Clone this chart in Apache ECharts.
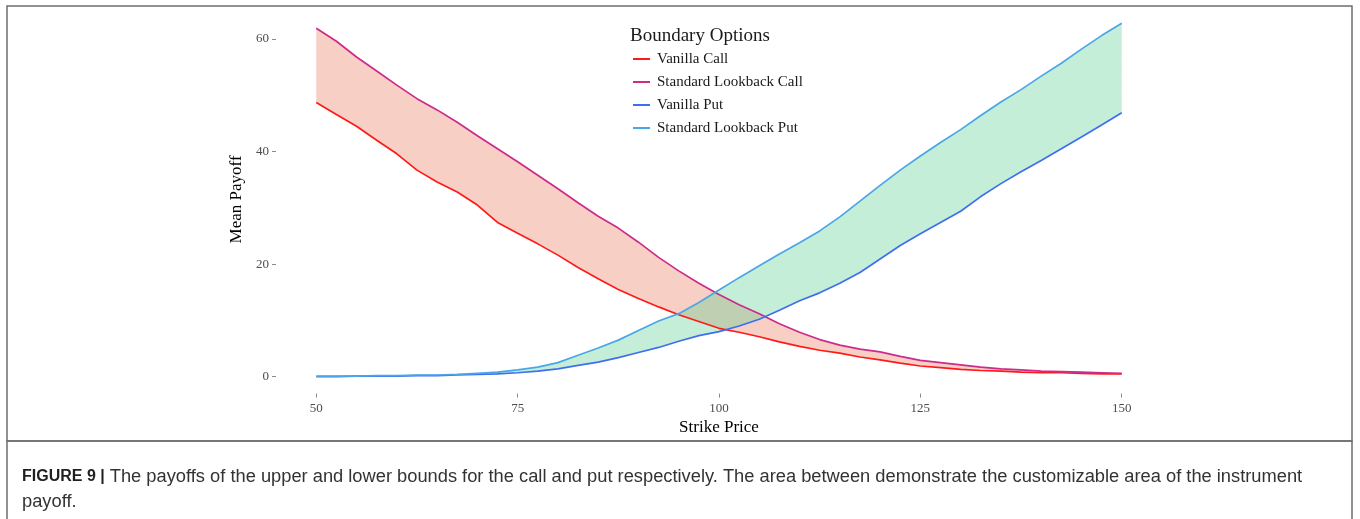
<!DOCTYPE html>
<html>
<head>
<meta charset="utf-8">
<script src="https://cdn.jsdelivr.net/npm/echarts@6/dist/echarts.min.js"></script>
<style>html,body{margin:0;padding:0;background:#fff;}#chart{width:1360px;height:519px;}</style>
</head>
<body>
<div id="chart"></div>
<script>
const strikes = [50,52.5,55,57.5,60,62.5,65,67.5,70,72.5,75,77.5,80,82.5,85,87.5,90,92.5,95,97.5,100,102.5,105,107.5,110,112.5,115,117.5,120,122.5,125,127.5,130,132.5,135,137.5,140,142.5,145,147.5,150];
const vanillaCall = [48.7,46.6,44.5,42.0,39.6,36.7,34.6,32.8,30.5,27.4,25.5,23.6,21.6,19.4,17.4,15.5,13.9,12.4,11.0,9.8,8.6,7.9,7.1,6.2,5.4,4.7,4.2,3.5,3.0,2.4,1.9,1.6,1.3,1.1,1.0,0.8,0.7,0.7,0.6,0.5,0.5];
const lookbackCall = [61.9,59.6,56.8,54.3,51.8,49.4,47.4,45.2,42.8,40.5,38.2,35.8,33.4,30.9,28.5,26.4,23.9,21.2,18.8,16.6,14.6,12.8,11.2,9.4,7.9,6.6,5.6,4.9,4.4,3.6,2.9,2.5,2.1,1.7,1.4,1.2,1.0,0.9,0.8,0.7,0.6];
const vanillaPut = [0.0,0.0,0.1,0.1,0.1,0.2,0.2,0.3,0.4,0.5,0.7,1.0,1.4,2.0,2.6,3.4,4.3,5.2,6.3,7.3,8.0,9.0,10.2,11.8,13.5,14.9,16.6,18.5,20.9,23.3,25.4,27.4,29.4,32.0,34.3,36.4,38.4,40.5,42.6,44.7,46.9];
const lookbackPut = [0.1,0.1,0.1,0.2,0.2,0.3,0.3,0.4,0.6,0.8,1.2,1.7,2.5,3.8,5.1,6.5,8.2,9.9,11.2,13.2,15.4,17.6,19.7,21.8,23.8,25.9,28.4,31.2,34.0,36.7,39.2,41.6,43.9,46.4,48.8,51.0,53.4,55.7,58.2,60.6,62.8];
const xTicks = [50,75,100,125,150];
const yTicks = [0,20,40,60];
const seriesNames = ['Vanilla Call','Standard Lookback Call','Vanilla Put','Standard Lookback Put'];
const seriesColors = ['#ff1a1a','#cc2a8c','#3d6ff0','#4aa6e6'];

const pairs = (ys) => strikes.map((x,i)=>[x, ys[i]]);

function lineSeries(name, ys, color){
  return {name:name, type:'line', data:pairs(ys), symbol:'none', smooth:false,
    lineStyle:{color:color, width:1.7}, itemStyle:{color:color}, silent:true};
}
// band between a lower and an upper curve, drawn as one polygon through the axes' scales
function bandSeries(lo, hi, color){
  return {type:'custom', silent:true, clip:false,
    data: strikes.map((x,i)=>[x, lo[i], hi[i]]),
    encode:{x:0, y:[1,2]},
    renderItem:function(params, api){
      if (params.dataIndex !== 0) return null;
      const pts = [];
      for (let i=0;i<strikes.length;i++) pts.push(api.coord([strikes[i], hi[i]]));
      for (let i=strikes.length-1;i>=0;i--) pts.push(api.coord([strikes[i], lo[i]]));
      return {type:'polygon', shape:{points:pts}, style:{fill:color, stroke:null}};
    }
  };
}

const serif = 'Liberation Serif';
const chart = echarts.init(document.getElementById('chart'));
chart.setOption({
  animation:false,
  backgroundColor:'#ffffff',
  title:[
    {text:'Boundary Options', left:625, top:22, textStyle:{fontFamily:serif, fontSize:19, fontWeight:'normal', color:'#1a1a1a'}},
    {text:'{b|FIGURE 9 |} The payoffs of the upper and lower bounds for the call and put respectively. The area between demonstrate the customizable area of the instrument\npayoff.',
     left:17, top:459,
     textStyle:{fontFamily:'Liberation Sans', fontSize:18.3, fontWeight:'normal', color:'#333', lineHeight:25,
       rich:{b:{fontFamily:'Liberation Sans', fontSize:16, fontWeight:'bold', color:'#1f1f1f', lineHeight:25}}}}
  ],
  legend:{
    data:seriesNames, orient:'vertical', left:628, top:46, icon:'rect', itemWidth:17, itemHeight:2, itemGap:7,
    textStyle:{fontFamily:serif, fontSize:15, color:'#1a1a1a', lineHeight:16, padding:[0,0,0,2]}, selectedMode:false
  },
  grid:{left:276, right:198, top:5.2, bottom:125.4, containLabel:false},
  xAxis:{type:'value', min:45, max:155,
    name:'Strike Price', nameLocation:'middle', nameGap:25,
    nameTextStyle:{fontFamily:serif, fontSize:17, color:'#000'},
    axisLine:{show:false, onZero:false}, splitLine:{show:false},
    axisTick:{show:true, customValues:xTicks, length:4, lineStyle:{color:'#8a8a8a', width:1}},
    axisLabel:{customValues:xTicks, margin:8, fontFamily:serif, fontSize:13, color:'#4d4d4d'}
  },
  yAxis:{type:'value', min:-3, max:66,
    name:'Mean Payoff', nameLocation:'middle', nameGap:26,
    nameTextStyle:{fontFamily:serif, fontSize:17, color:'#000'},
    axisLine:{show:false, onZero:false}, splitLine:{show:false},
    axisTick:{show:true, customValues:yTicks, length:4, lineStyle:{color:'#8a8a8a', width:1}},
    axisLabel:{customValues:yTicks, margin:7, fontFamily:serif, fontSize:13, color:'#4d4d4d'}
  },
  graphic:[
    {type:'rect', shape:{x:7, y:6, width:1345, height:435}, style:{fill:null, stroke:'#6e6e6e', lineWidth:1.5}, silent:true, z:100},
    {type:'rect', shape:{x:7, y:441, width:1345, height:90}, style:{fill:null, stroke:'#6e6e6e', lineWidth:1.5}, silent:true, z:100}
  ],
  series:[
    bandSeries(vanillaCall, lookbackCall, 'rgba(235,118,86,0.35)'),
    lineSeries(seriesNames[0], vanillaCall, seriesColors[0]),
    lineSeries(seriesNames[1], lookbackCall, seriesColors[1]),
    bandSeries(vanillaPut, lookbackPut, 'rgba(86,206,143,0.35)'),
    lineSeries(seriesNames[2], vanillaPut, seriesColors[2]),
    lineSeries(seriesNames[3], lookbackPut, seriesColors[3])
  ]
});
</script>
</body>
</html>
